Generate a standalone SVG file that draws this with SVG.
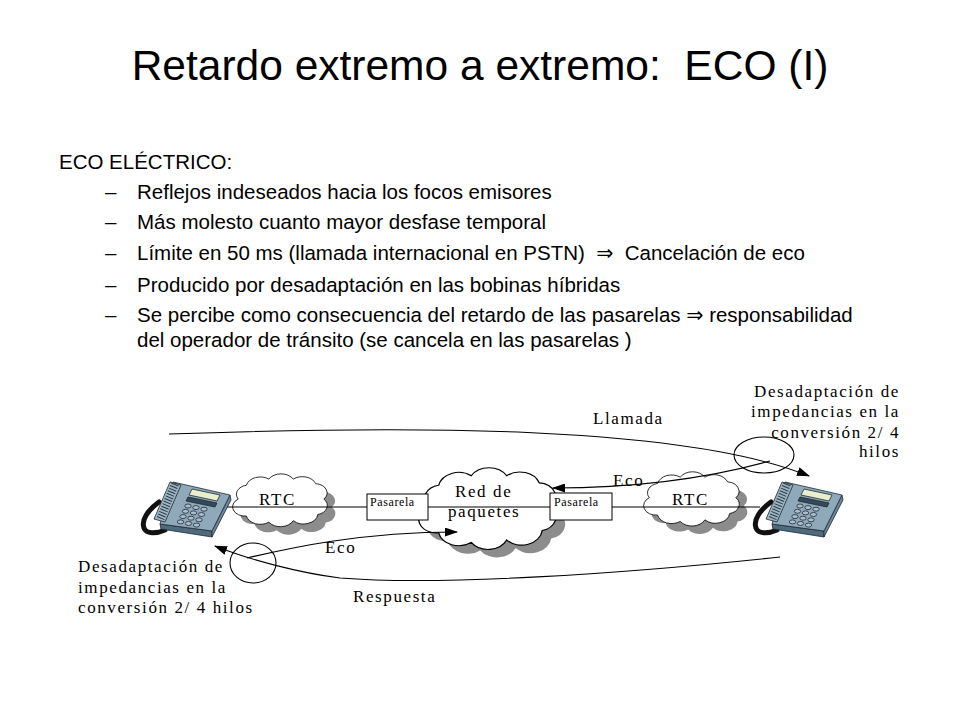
<svg xmlns="http://www.w3.org/2000/svg" xmlns:xlink="http://www.w3.org/1999/xlink" width="960" height="720" viewBox="0 0 960 720">
<style>
.title{font-family:"Liberation Sans",Arial,sans-serif;font-size:42.5px;fill:#000}
.body{font-family:"Liberation Sans",Arial,"DejaVu Sans",sans-serif;font-size:20.5px;fill:#000}
.lbl{font-family:"Liberation Serif","Times New Roman",serif;font-size:17px;letter-spacing:1.6px;fill:#000}
.box{font-family:"Liberation Serif","Times New Roman",serif;font-size:12px;letter-spacing:0.6px;fill:#000}
.ln{fill:none;stroke:#000;stroke-width:1.1}
.arr{fill:none;stroke:#000;stroke-width:1.1;marker-end:url(#ah)}
.cloud{fill:#fff;stroke:#000;stroke-width:0.9}
.shadow{fill:#8c8c8c;stroke:none}
.ph{stroke:#1e2a33;stroke-width:0.8;stroke-linejoin:round}
</style>
<defs>
<marker id="ah" viewBox="0 0 13 9" refX="12" refY="4.5" markerWidth="13" markerHeight="9" orient="auto" markerUnits="userSpaceOnUse">
<path d="M0,0 L13,4.5 L0,9 z" fill="#000"/>
</marker>
<path id="cl" d="M10,30 a12,12 0 0 1 8,-18 a14,14 0 0 1 22,-8 a14,14 0 0 1 24,0 a14,14 0 0 1 22,6 a12,12 0 0 1 8,20 a12,12 0 0 1 -6,20 a14,14 0 0 1 -24,8 a14,14 0 0 1 -24,2 a14,14 0 0 1 -22,-8 a12,12 0 0 1 -8,-22 z"/>
<g id="phoneArt">
<path d="M19,32 C8,40 1,50 4,58 C6,64 16,64 25,60" fill="none" stroke="#111" stroke-width="5" stroke-linecap="round"/>
<path class="ph" d="M20,54 L72,61 L72,67 L21,59 Z" fill="#4e6a7d"/>
<path class="ph" d="M72,61 L90,25 L91,30 L72,67 Z" fill="#6b889b"/>
<path class="ph" d="M33,12 L90,25 L72,61 L20,54 Z" fill="#8fa9ba"/>
<path class="ph" d="M30,12 L41,15 L25,52 L14,49 Z" fill="#9db4c3"/>
<path d="M35,14 L20,50" stroke="#2b3b46" stroke-width="8" stroke-dasharray="1 1.8" fill="none"/>
<path class="ph" d="M52,19 L80,25 L77,31 L49,25 Z" fill="#e9eecd"/>
<path class="ph" d="M48,27 L77,33 L75,37 L46,31 Z" fill="#34495a"/>
<g class="ph" fill="#a9bfcd">
<ellipse cx="48" cy="36" rx="3.2" ry="2"/><ellipse cx="56" cy="37.6" rx="3.2" ry="2"/><ellipse cx="64" cy="39.2" rx="3.2" ry="2"/>
<ellipse cx="45.5" cy="41.3" rx="3.2" ry="2"/><ellipse cx="53.5" cy="42.9" rx="3.2" ry="2"/><ellipse cx="61.5" cy="44.5" rx="3.2" ry="2"/>
<ellipse cx="43" cy="46.6" rx="3.2" ry="2"/><ellipse cx="51" cy="48.2" rx="3.2" ry="2"/><ellipse cx="59" cy="49.8" rx="3.2" ry="2"/>
<ellipse cx="40.5" cy="51.9" rx="3.2" ry="2"/><ellipse cx="48.5" cy="53.5" rx="3.2" ry="2"/><ellipse cx="56.5" cy="55.1" rx="3.2" ry="2"/>
</g>
</g>
</defs>
<rect width="960" height="720" fill="#fff"/>

<g id="title"><text class="title" x="480" y="80" text-anchor="middle">Retardo extremo a extremo:&#160; ECO (I)</text></g>

<g id="bullets" class="body">
<text x="59" y="169">ECO ELÉCTRICO:</text>
<text x="105" y="199">–</text><text x="137" y="199">Reflejos indeseados hacia los focos emisores</text>
<text x="105" y="229">–</text><text x="137" y="229">Más molesto cuanto mayor desfase temporal</text>
<text x="105" y="260">–</text><text x="137" y="260">Límite en 50 ms (llamada internacional en PSTN)&#160; ⇒&#160; Cancelación de eco</text>
<text x="105" y="292">–</text><text x="137" y="292">Producido por desadaptación en las bobinas híbridas</text>
<text x="105" y="322">–</text><text x="137" y="322">Se percibe como consecuencia del retardo de las pasarelas ⇒ responsabilidad</text>
<text x="137" y="347">del operador de tránsito (se cancela en las pasarelas )</text>
</g>

<g id="cloud-rtc-left">
<use xlink:href="#cl" class="shadow" transform="translate(236,484) scale(1.02,0.77)"/>
<use xlink:href="#cl" class="cloud" transform="translate(228,476) scale(1.02,0.77)"/>
<text class="lbl" x="259" y="505">RTC</text>
</g>
<g id="cloud-red">
<use xlink:href="#cl" class="shadow" transform="translate(421,479) scale(1.48,1.19)"/>
<use xlink:href="#cl" class="cloud" transform="translate(412,471) scale(1.48,1.19)"/>
<text class="lbl" x="455" y="497">Red de</text>
<text class="lbl" x="448" y="517">paquetes</text>
</g>
<g id="cloud-rtc-right">
<use xlink:href="#cl" class="shadow" transform="translate(647,482) scale(1.03,0.79)"/>
<use xlink:href="#cl" class="cloud" transform="translate(639,474) scale(1.03,0.79)"/>
<text class="lbl" x="672" y="505">RTC</text>
</g>

<g id="connectors">
<path class="ln" d="M227,507 L760,507"/>
<path class="arr" d="M169,434 C400,426 680,424 809,476"/>
<path class="arr" d="M770,461 C720,475 650,488 553,488"/>
<path class="arr" d="M247,558 C290,548 360,532 457,532"/>
<path class="arr" d="M780,557 C620,574 440,586 340,578 C300,573 250,560 215,546"/>
<ellipse class="ln" cx="764" cy="455" rx="30" ry="18"/>
<ellipse class="ln" cx="253" cy="563" rx="23" ry="20"/>
<text class="lbl" x="593" y="424">Llamada</text>
<text class="lbl" x="613" y="486">Eco</text>
<text class="lbl" x="325" y="553">Eco</text>
<text class="lbl" x="353" y="602">Respuesta</text>
</g>

<g id="gw-left">
<rect x="367" y="494" width="61" height="26" fill="#fff" stroke="#000" stroke-width="1"/>
<text class="box" x="370" y="506">Pasarela</text>
</g>
<g id="gw-right">
<rect x="550" y="493" width="62" height="27" fill="#fff" stroke="#000" stroke-width="1"/>
<text class="box" x="554" y="506">Pasarela</text>
</g>

<g id="phone-left"><use xlink:href="#phoneArt" transform="translate(140,470)"/></g>
<g id="phone-right"><use xlink:href="#phoneArt" transform="translate(752,470)"/></g>

<g id="note-left" class="lbl">
<text x="78" y="572">Desadaptación de</text>
<text x="78" y="593">impedancias en la</text>
<text x="78" y="613">conversión 2/ 4 hilos</text>
</g>
<g id="note-right" class="lbl" text-anchor="end">
<text x="900" y="397">Desadaptación de</text>
<text x="900" y="417">impedancias en la</text>
<text x="900" y="438">conversión 2/ 4</text>
<text x="900" y="457">hilos</text>
</g>
</svg>
